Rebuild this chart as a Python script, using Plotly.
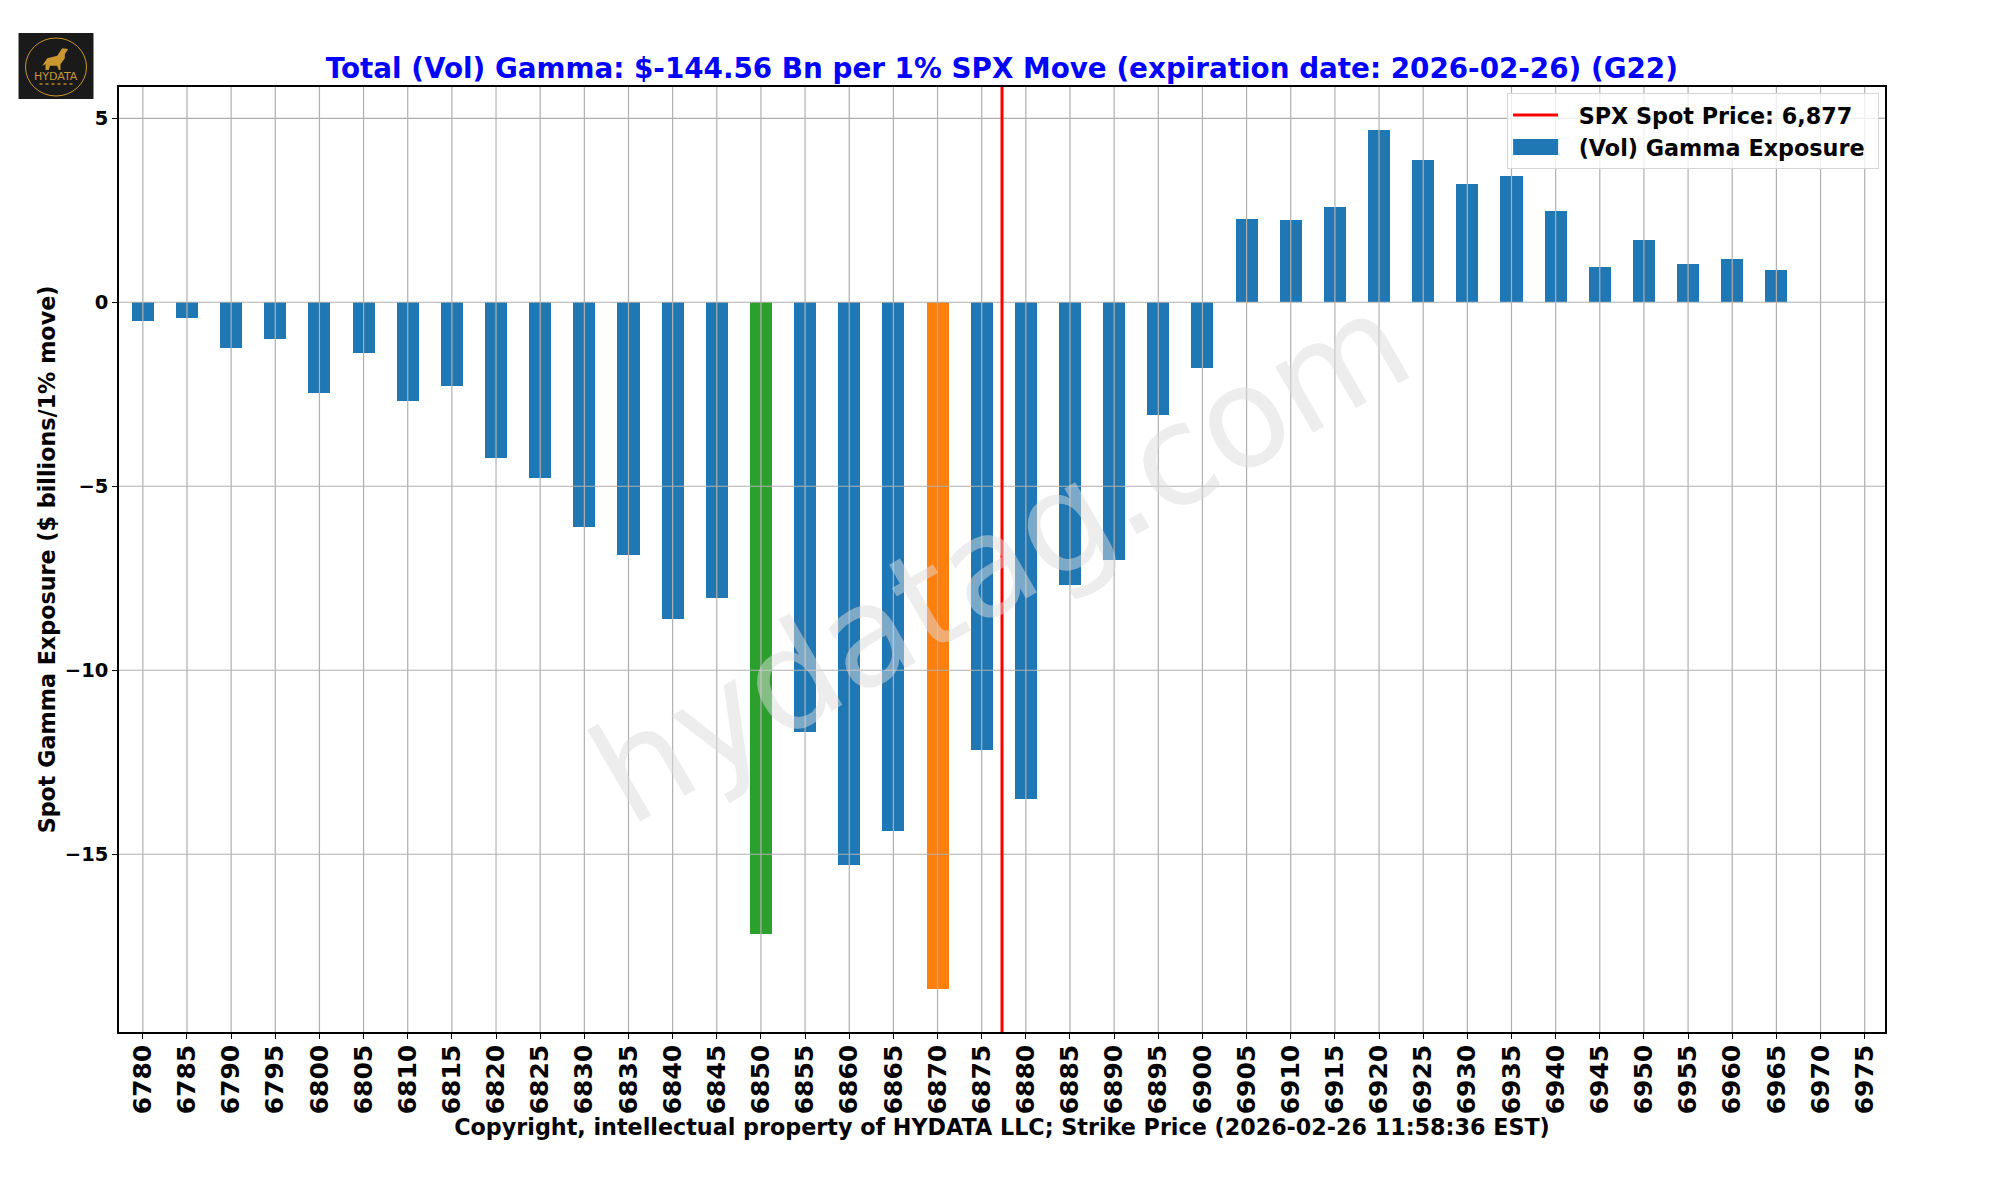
import plotly.graph_objects as go

strikes = [6780 + 5 * i for i in range(40)]
gamma = [-0.50, -0.42, -1.23, -0.99, -2.46, -1.39, -2.67, -2.27, -4.22, -4.77,
         -6.12, -6.88, -8.60, -8.03, -17.16, -11.69, -15.28, -14.36, -18.65, -12.16,
         -13.49, -7.67, -6.99, -3.05, -1.78, 2.26, 2.23, 2.58, 4.67, 3.86,
         3.21, 3.42, 2.47, 0.95, 1.68, 1.03, 1.18, 0.88, None, None]
highlight = {6850: "#2ca02c", 6870: "#ff7f0e"}
spot_x = 6877.3
y_ticks = [-15, -10, -5, 0, 5]
title = "Total (Vol) Gamma: $-144.56 Bn per 1% SPX Move (expiration date: 2026-02-26) (G22)"
x_title = "Copyright, intellectual property of HYDATA LLC; Strike Price (2026-02-26 11:58:36 EST)"
y_title = "Spot Gamma Exposure ($ billions/1% move)"

W, H = 2000, 1200
L, R, T, B = 118.5, 1885, 87, 1032
XR = [6777.3, 6977.3]
YR = [-19.83, 5.85]
FONT = "DejaVu Sans"
GOLD = "#c9962f"
NB = "\u00a0"

def px(x):
    return (x - L) / (R - L)

def py(y):
    return (B - y) / (B - T)

colors = [highlight.get(s, "#1f77b4") for s in strikes]

fig = go.Figure()
fig.add_trace(go.Bar(x=strikes, y=gamma, width=2.5, marker=dict(color=colors, line=dict(width=0)),
                     showlegend=False))

gx, gy = [], []
for s in strikes:
    gx += [s, s, None]
    gy += [YR[0], YR[1], None]
for t in y_ticks:
    gx += [XR[0], XR[1], None]
    gy += [t, t, None]
fig.add_trace(go.Scatter(x=gx, y=gy, mode="lines", line=dict(color="#b0b0b0", width=1.2),
                         showlegend=False, hoverinfo="skip"))
fig.add_trace(go.Scatter(x=[spot_x, spot_x], y=YR, mode="lines", line=dict(color="#ff0000", width=3),
                         name=NB + NB + "SPX Spot Price: 6,877" + NB))
fig.add_trace(go.Scatter(x=[None], y=[None], mode="lines", line=dict(color="#1f77b4", width=16),
                         name=NB + NB + "(Vol) Gamma Exposure" + NB))

shapes = [
    dict(type="rect", xref="paper", yref="paper", x0=px(18), x1=px(93), y0=py(99), y1=py(33),
         fillcolor="#1a1a1a", line=dict(width=0), layer="above"),
    dict(type="circle", xref="paper", yref="paper", x0=px(25), x1=px(86), y0=py(96), y1=py(38),
         fillcolor="rgba(0,0,0,0)", line=dict(color=GOLD, width=1), layer="above"),
    dict(type="line", xref="paper", yref="paper", x0=px(39), x1=px(72), y0=py(84), y1=py(84),
         line=dict(color="#8a6a25", width=2, dash="dot"), layer="above"),
]
wolf = [(173, 72), (155, 70), (140, 92), (110, 100), (95, 122), (105, 118), (105, 135), (115, 135),
        (118, 122), (140, 122), (145, 135), (150, 135), (150, 118), (163, 100), (163, 88)]
path = "M " + " L ".join(f"{px(10 + a / 3):.5f} {py(25 + b / 3):.5f}" for a, b in wolf) + " Z"
shapes.append(dict(type="path", xref="paper", yref="paper", path=path, fillcolor=GOLD,
                   line=dict(width=0), layer="above"))

annotations = [
    dict(text="HYDATA", x=px(55.5), y=py(77), xref="paper", yref="paper", showarrow=False,
         xanchor="center", yanchor="middle",
         font=dict(family=FONT, size=11, color=GOLD)),
    dict(text="hydatag.com", x=px(1000), y=py(558), xref="paper", yref="paper", showarrow=False,
         xanchor="center", yanchor="middle",
         textangle=-30, font=dict(family=FONT, size=139, color="rgba(220,220,220,0.5)")),
]

fig.update_layout(
    width=W, height=H, paper_bgcolor="white", plot_bgcolor="white",
    margin=dict(l=L, r=W - R, t=T, b=H - B, autoexpand=False),
    font=dict(family=FONT, color="black"),
    title=dict(text=f"<b>{title}</b>", x=(L + R) / 2 / W, xanchor="center", y=1 - 68 / H, yanchor="middle",
               font=dict(family=FONT, size=27.8, color="#0000ff")),
    xaxis=dict(range=XR, tickmode="array", tickvals=strikes, ticktext=[f"<b>{s}</b>" for s in strikes],
               tickangle=-90, tickfont=dict(family=FONT, size=25, color="black"), ticklabelstandoff=-4,
               ticks="outside", ticklen=5, tickwidth=1, tickcolor="black",
               showgrid=False, zeroline=False, showline=True, linecolor="black", linewidth=1.5, mirror=True,
               title=dict(text=f"<b>{x_title}</b>", standoff=1, font=dict(family=FONT, size=22.25))),
    yaxis=dict(range=YR, tickmode="array", tickvals=y_ticks, ticktext=[f"<b>{t}</b>".replace("-", "\u2212") for t in y_ticks],
               tickfont=dict(family=FONT, size=19.5, color="black"),
               ticks="outside", ticklen=5, tickwidth=1, tickcolor="black",
               showgrid=False, zeroline=False, showline=True, linecolor="black", linewidth=1.5, mirror=True,
               title=dict(text=f"<b>{y_title}</b>", standoff=3, font=dict(family=FONT, size=22.25))),
    legend=dict(x=px(1507), y=py(93), xanchor="left", yanchor="top", bgcolor="rgba(255,255,255,0.8)",
                bordercolor="#d5d5d5", borderwidth=1, itemwidth=45, font=dict(family=FONT, size=22.3, weight="bold")),
    shapes=shapes, annotations=annotations, bargap=0, showlegend=True,
)
post = """
document.body.style.margin = '0';
var ls = document.querySelectorAll('.legend .legendlines path');
if (ls.length > 1) { ls[ls.length - 1].style.strokeWidth = '16px'; }
"""
fig.write_html("out.html", post_script=post, config={"displayModeBar": False})
